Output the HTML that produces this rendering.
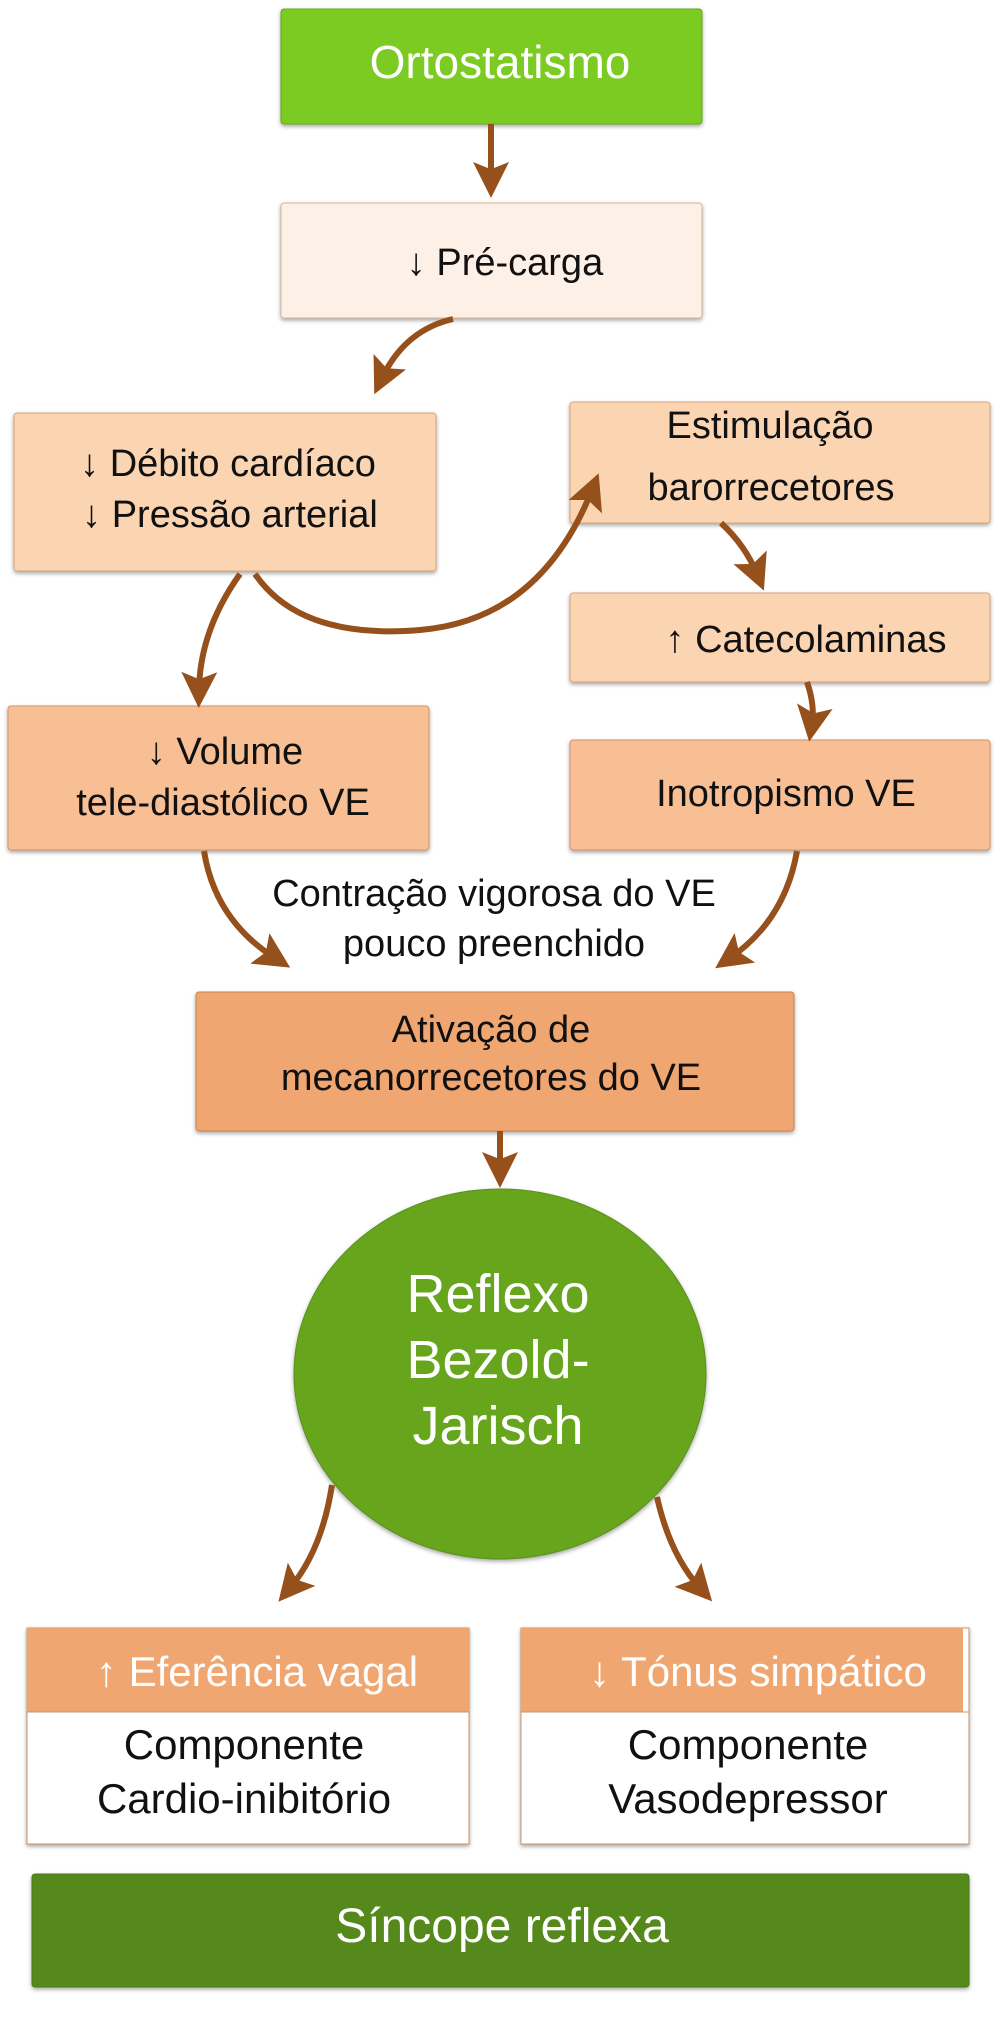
<!DOCTYPE html>
<html><head><meta charset="utf-8"><style>
html,body{margin:0;padding:0;background:#fff}
svg{display:block}
text{font-family:"Liberation Sans",sans-serif;text-anchor:middle}
</style></head><body>
<svg width="1000" height="2017" viewBox="0 0 1000 2017" xmlns="http://www.w3.org/2000/svg">
<defs>
<filter id="sh" x="-5%" y="-5%" width="110%" height="120%"><feDropShadow dx="0" dy="2" stdDeviation="2" flood-color="#000" flood-opacity="0.35"/></filter>
<marker id="ah" markerWidth="6" markerHeight="6" refX="3" refY="3" orient="auto" markerUnits="strokeWidth"><path d="M0,0 L6,3 L0,6 L1.2,3 Z" fill="#95501b"/></marker>
</defs>
<g filter="url(#sh)">
<rect x="281" y="9" width="421" height="115" rx="3" fill="#7bcb22" stroke="#6aa91f"/>
<rect x="281" y="203" width="421" height="115" rx="3" fill="#fdf0e6" stroke="#d9b493"/>
<rect x="14" y="413" width="422" height="158" rx="3" fill="#fbd4b2" stroke="#d9a57a"/>
<rect x="570" y="402" width="420" height="121" rx="3" fill="#fbd4b2" stroke="#d9a57a"/>
<rect x="570" y="593" width="420" height="89" rx="3" fill="#fbd4b2" stroke="#d9a57a"/>
<rect x="8" y="706" width="421" height="144" rx="3" fill="#f8bf94" stroke="#d39467"/>
<rect x="570" y="740" width="420" height="110" rx="3" fill="#f8bf94" stroke="#d39467"/>
<rect x="196" y="992" width="598" height="139" rx="3" fill="#f0a670" stroke="#c88655"/>
<ellipse cx="500" cy="1374" rx="206" ry="185" fill="#66a51f" stroke="#5a8f1c"/>
<rect x="27" y="1628" width="442" height="216" fill="#fff" stroke="#c9936a"/>
<rect x="521" y="1628" width="448" height="216" fill="#fff" stroke="#c9936a"/>
<rect x="32" y="1874" width="937" height="113" rx="3" fill="#54891a" stroke="#4a7a17"/>
</g>
<rect x="27" y="1628" width="442" height="84" fill="#f0a670"/>
<rect x="521" y="1628" width="442" height="84" fill="#f0a670"/>
<line x1="27" y1="1712" x2="469" y2="1712" stroke="#c9936a"/>
<line x1="521" y1="1712" x2="969" y2="1712" stroke="#c9936a"/>

<g fill="none" stroke="#95501b" stroke-width="6" marker-end="url(#ah)">
<path d="M491,124 L491,180"/>
<path d="M453,319 Q405,330 382,378"/>
<path d="M255,574 Q300,640 420,630 Q540,620 592,490"/>
<path d="M240,574 Q200,630 199,690"/>
<path d="M721,523 Q745,545 757,574"/>
<path d="M807,682 Q815,705 812,724"/>
<path d="M204,851 Q215,920 275,958"/>
<path d="M797,851 Q785,920 730,958"/>
<path d="M500,1131 L500,1170"/>
<path d="M332,1485 Q322,1550 290,1588"/>
<path d="M657,1497 Q670,1555 700,1588"/>
</g>

<g font-size="46" fill="#fff"><text x="500" y="78">Ortostatismo</text></g>
<g font-size="38" fill="#111">
<text x="505" y="275">↓ Pré-carga</text>
<text x="228" y="476">↓ Débito cardíaco</text>
<text x="230" y="527">↓ Pressão arterial</text>
<text x="770" y="438">Estimulação</text>
<text x="771" y="500">barorrecetores</text>
<text x="806" y="652">↑ Catecolaminas</text>
<text x="225" y="764">↓ Volume</text>
<text x="223" y="815">tele-diastólico VE</text>
<text x="786" y="806">Inotropismo VE</text>
<text x="494" y="906">Contração vigorosa do VE</text>
<text x="494" y="956">pouco preenchido</text>
<text x="491" y="1042">Ativação de</text>
<text x="491" y="1090">mecanorrecetores do VE</text>
</g>
<g font-size="54" fill="#fff">
<text x="498" y="1312">Reflexo</text>
<text x="498" y="1378">Bezold-</text>
<text x="498" y="1444">Jarisch</text>
</g>
<g font-size="42" fill="#fff">
<text x="257" y="1686">↑ Eferência vagal</text>
<text x="758" y="1686">↓ Tónus simpático</text>
</g>
<g font-size="42" fill="#111">
<text x="244" y="1759">Componente</text>
<text x="244" y="1813">Cardio-inibitório</text>
<text x="748" y="1759">Componente</text>
<text x="748" y="1813">Vasodepressor</text>
</g>
<g font-size="48" fill="#fff"><text x="502" y="1942">Síncope reflexa</text></g>
</svg>
</body></html>
